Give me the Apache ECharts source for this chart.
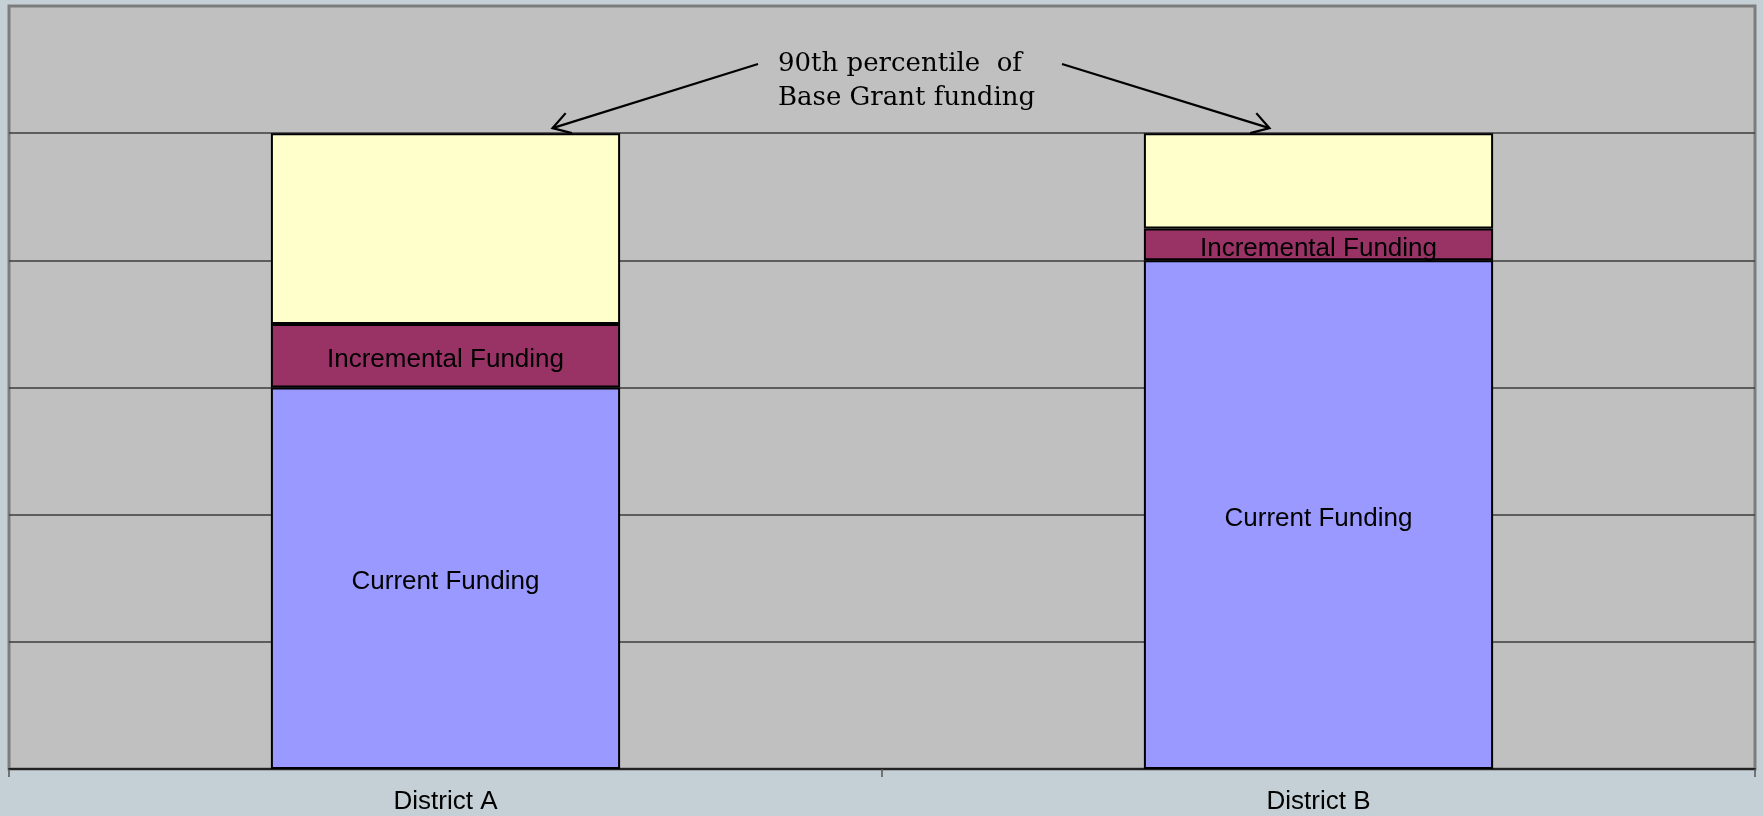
<!DOCTYPE html>
<html>
<head>
<meta charset="utf-8">
<title>District Funding</title>
<script src="https://cdn.jsdelivr.net/npm/echarts@6/dist/echarts.min.js"></script>
<style>
  html, body { margin: 0; padding: 0; background: #C5D0D6; }
  #chart { width: 1763px; height: 816px; }
</style>
</head>
<body>
<div id="chart"></div>
<script>
// Categories and stacked funding components
const districts = ['District A', 'District B'];
const currentFunding = [3, 4];
const incrementalFunding = [0.5, 0.25];
const remainingToTarget = [1.5, 0.75];
// Level of the 90th percentile of Base Grant funding
const percentile90 = 5;
const annotationLines = ['90th percentile  of', 'Base Grant funding'];

const chart = echarts.init(document.getElementById('chart'));

const barLabel = {
  show: true,
  position: 'inside',
  offset: [0, 4],
  formatter: '{a}',
  color: '#000',
  fontFamily: 'Liberation Sans, Arial, sans-serif',
  fontSize: 26
};

chart.setOption({
  backgroundColor: '#C5D0D6',
  animation: false,
  grid: {
    left: 9, right: 8, top: 6, bottom: 47,
    show: true,
    backgroundColor: '#C0C0C0',
    borderColor: '#7c7c7c',
    borderWidth: 3
  },
  xAxis: {
    type: 'category',
    data: districts,
    boundaryGap: true,
    axisLine: { lineStyle: { color: '#222', width: 2 } },
    axisTick: { show: true, length: 8, lineStyle: { color: '#555', width: 1.5 } },
    axisLabel: {
      color: '#000',
      fontFamily: 'Liberation Sans, Arial, sans-serif',
      fontSize: 26,
      margin: 20
    }
  },
  yAxis: {
    type: 'value',
    min: 0,
    max: 6,
    interval: 1,
    axisLine: { show: false },
    axisTick: { show: false },
    axisLabel: { show: false },
    splitLine: {
      show: true,
      showMinLine: false,
      showMaxLine: false,
      lineStyle: { color: '#3c3c3c', width: 1.5 }
    }
  },
  series: [
    {
      name: 'Current Funding',
      type: 'bar',
      stack: 'funding',
      barWidth: '40%',
      data: currentFunding,
      itemStyle: { color: '#9999FF', borderColor: '#000', borderWidth: 2 },
      label: barLabel
    },
    {
      name: 'Incremental Funding',
      type: 'bar',
      stack: 'funding',
      barWidth: '40%',
      data: incrementalFunding,
      itemStyle: { color: '#993366', borderColor: '#000', borderWidth: 2 },
      label: barLabel
    },
    {
      name: 'Remaining to Target',
      type: 'bar',
      stack: 'funding',
      barWidth: '40%',
      data: remainingToTarget,
      itemStyle: { color: '#FFFFCC', borderColor: '#000', borderWidth: 2 },
      label: { show: false }
    }
  ]
});

// Annotation arrows pointing at the 90th percentile level on each bar
const levelY = chart.convertToPixel({ yAxisIndex: 0 }, percentile90) - 5;
const centerA = chart.convertToPixel({ xAxisIndex: 0 }, districts[0]);
const centerB = chart.convertToPixel({ xAxisIndex: 0 }, districts[1]);
const tipA = [centerA + 107, levelY];
const tipB = [centerB - 49, levelY];
const startA = [758, 64];
const startB = [1062, 64];

function arrowHead(tip, from, len, spread) {
  const ang = Math.atan2(from[1] - tip[1], from[0] - tip[0]);
  return [
    [tip[0] + len * Math.cos(ang + spread), tip[1] + len * Math.sin(ang + spread)],
    tip,
    [tip[0] + len * Math.cos(ang - spread), tip[1] + len * Math.sin(ang - spread)]
  ];
}

const arrowStyle = { stroke: '#000', lineWidth: 2.2, fill: null };

chart.setOption({
  graphic: [
    { type: 'polyline', shape: { points: [startA, tipA] }, style: arrowStyle, z: 100 },
    { type: 'polyline', shape: { points: arrowHead(tipA, startA, 20, 0.55) }, style: arrowStyle, z: 100 },
    { type: 'polyline', shape: { points: [startB, tipB] }, style: arrowStyle, z: 100 },
    { type: 'polyline', shape: { points: arrowHead(tipB, startB, 20, 0.55) }, style: arrowStyle, z: 100 },
    {
      type: 'text',
      left: 778,
      top: 47,
      z: 100,
      style: {
        text: annotationLines.join('\n'),
        fill: '#000',
        font: '26px "DejaVu Serif", serif',
        lineHeight: 34,
        textAlign: 'left'
      }
    }
  ]
});
</script>
</body>
</html>
